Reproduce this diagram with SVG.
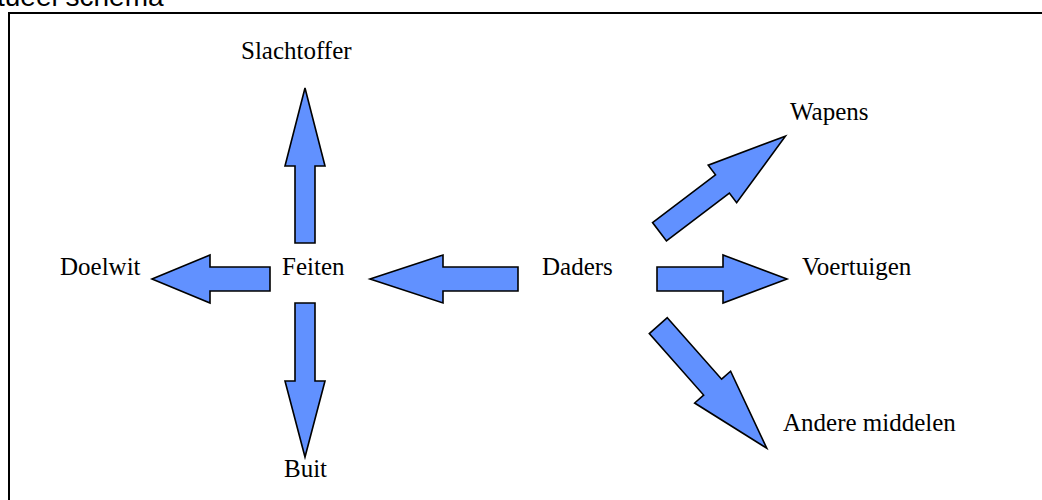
<svg xmlns="http://www.w3.org/2000/svg" width="1042" height="500" viewBox="0 0 1042 500">
<style>
.arrow{fill:#6191ff;stroke:#000;stroke-width:1.6;stroke-linejoin:miter}
.lbl{font-family:"Liberation Serif","Times New Roman",serif;font-size:25px;fill:#000}
.title{font-family:"Liberation Sans",Arial,sans-serif;font-size:28px;fill:#000}
</style>
<rect width="1042" height="500" fill="#fff"/>
<text class="title" x="-3" y="6">tueel schema</text>
<rect x="9" y="13" width="1050" height="500" fill="none" stroke="#000" stroke-width="2"/>
<g id="connectors">
<polygon id="a-slachtoffer" class="arrow" points="305,88 325,166 315,166 315,243 295,243 295,166 285,166"/>
<polygon id="a-buit" class="arrow" points="295,303 315,303 315,381 325,381 305,457 285,381 295,381"/>
<polygon id="a-doelwit" class="arrow" points="152,279 210,255 210,267 270,267 270,291 210,291 210,303"/>
<polygon id="a-feiten" class="arrow" points="370,279 443,255 443,267 518,267 518,291 443,291 443,303"/>
<polygon id="a-voertuigen" class="arrow" points="657,267 723,267 723,255 787,279 723,303 723,291 657,291"/>
<polygon id="a-wapens" class="arrow" points="0,-11.5 79,-11.5 79,-23.5 158,0 79,23.5 79,11.5 0,11.5" transform="translate(659.5,231.7) rotate(-37.2)"/>
<polygon id="a-andere" class="arrow" points="0,-12 82,-12 82,-24 163.6,0 82,24 82,12 0,12" transform="translate(658.3,325.7) rotate(48.5)"/>
</g>
<g id="node-slachtoffer"><text class="lbl" x="241" y="59">Slachtoffer</text></g>
<g id="node-doelwit"><text class="lbl" x="60" y="275">Doelwit</text></g>
<g id="node-feiten"><text class="lbl" x="282" y="275">Feiten</text></g>
<g id="node-daders"><text class="lbl" x="542" y="275">Daders</text></g>
<g id="node-buit"><text class="lbl" x="284" y="477">Buit</text></g>
<g id="node-wapens"><text class="lbl" x="790" y="120">Wapens</text></g>
<g id="node-voertuigen"><text class="lbl" x="802" y="275">Voertuigen</text></g>
<g id="node-andere"><text class="lbl" x="783" y="431">Andere middelen</text></g>
</svg>
